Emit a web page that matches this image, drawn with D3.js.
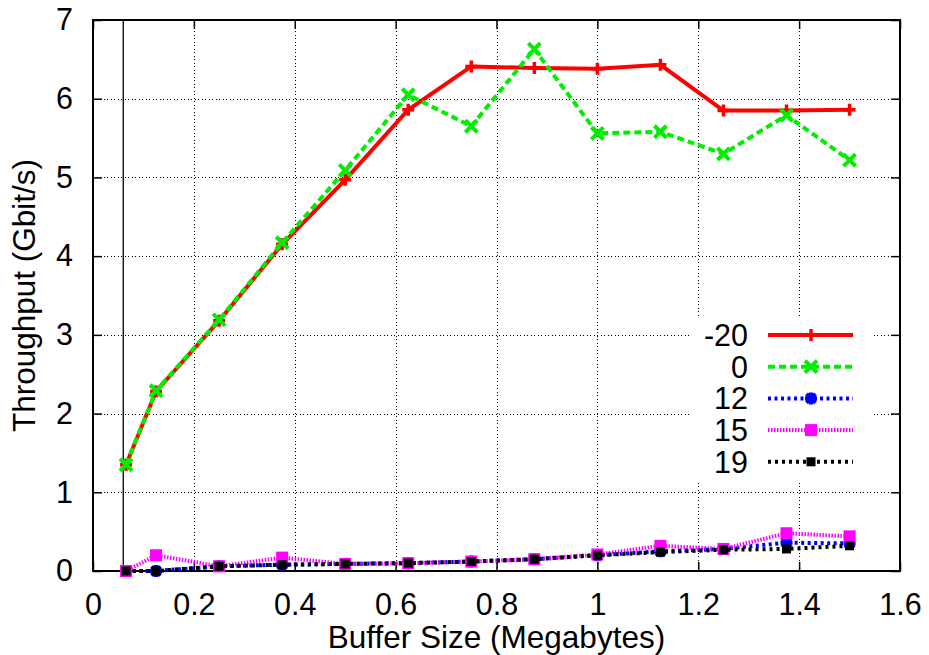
<!DOCTYPE html>
<html>
<head>
<meta charset="utf-8">
<script src="https://cdnjs.cloudflare.com/ajax/libs/d3/7.8.5/d3.min.js"></script>
<style>
  body { margin: 0; background: #fff; }
  svg { font-family: "Liberation Sans", Arial, sans-serif; }
</style>
</head>
<body>
<svg id="chart" width="929" height="655"></svg>
<script>
// buffer sizes (MB)
var bufferSizes = [0.0655, 0.125, 0.25, 0.375, 0.5, 0.625, 0.75, 0.875, 1.0, 1.125, 1.25, 1.375, 1.5];
var seriesNames = ["-20", "0", "12", "15", "19"];
var tputM20 = [1.35, 2.28, 3.18, 4.15, 4.97, 5.86, 6.41, 6.39, 6.38, 6.43, 5.85, 5.85, 5.86];
var tput0   = [1.35, 2.29, 3.19, 4.17, 5.09, 6.05, 5.65, 6.63, 5.56, 5.58, 5.30, 5.79, 5.22];
var tput12  = [0.00, 0.00, 0.06, 0.08, 0.09, 0.10, 0.12, 0.15, 0.20, 0.25, 0.28, 0.36, 0.35];
var tput15  = [0.00, 0.20, 0.06, 0.17, 0.09, 0.10, 0.12, 0.15, 0.21, 0.32, 0.28, 0.48, 0.44];
var tput19  = [0.00, 0.00, 0.06, 0.08, 0.09, 0.10, 0.12, 0.15, 0.20, 0.24, 0.27, 0.28, 0.32];
var xTicks = [0, 0.2, 0.4, 0.6, 0.8, 1, 1.2, 1.4, 1.6];
var yTicks = [0, 1, 2, 3, 4, 5, 6, 7];
var markerLineX = 0.06;

var svg = d3.select("#chart");
var pLeft = 93, pRight = 900, pTop = 20, pBottom = 571;

var x = d3.scaleLinear().domain([0, 1.6]).range([pLeft, pRight]);
var y = d3.scaleLinear().domain([0, 7]).range([pBottom, pTop]);

var styles = [
  { color: "#ff0000", dash: null,  marker: "plus",  data: tputM20 },
  { color: "#00ee00", dash: "7,4", marker: "cross", data: tput0 },
  { color: "#0000ff", dash: "3,3.5", marker: "star", data: tput12 },
  { color: "#ff00ff", dash: "1.5,1.5", marker: "bigsq", data: tput15 },
  { color: "#000000", dash: "3,4", marker: "sq",    data: tput19 }
];

// grid
var grid = svg.append("g").attr("stroke", "#000").attr("stroke-width", 1)
  .attr("stroke-dasharray", "1,2.5").attr("shape-rendering", "crispEdges");
xTicks.slice(1, -1).forEach(function(t) {
  var gx = Math.round(x(t)) + 0.5;
  grid.append("line").attr("x1", gx).attr("x2", gx).attr("y1", pBottom).attr("y2", pTop);
});
yTicks.slice(1, -1).forEach(function(t) {
  var gy = Math.round(y(t)) + 0.5;
  grid.append("line").attr("x1", pLeft).attr("x2", pRight).attr("y1", gy).attr("y2", gy);
});

// vertical line near the first buffer size
svg.append("line").attr("x1", x(markerLineX)).attr("x2", x(markerLineX))
  .attr("y1", pTop).attr("y2", pBottom).attr("stroke", "#000").attr("stroke-width", 1.3);

// axes with inside ticks
var axB = d3.axisBottom(x).tickValues(xTicks).tickSize(-9).tickPadding(22)
  .tickFormat(function(d) { return String(+d.toFixed(1)); });
var axT = d3.axisTop(x).tickValues(xTicks).tickSize(-9).tickFormat("");
var axL = d3.axisLeft(y).tickValues(yTicks).tickSize(-9).tickPadding(20).tickFormat(d3.format("d"));
var axR = d3.axisRight(y).tickValues(yTicks).tickSize(-9).tickFormat("");

function styleAxis(g) {
  g.select(".domain").remove();
  g.selectAll("line").attr("stroke", "#000").attr("stroke-width", 1.5);
  g.selectAll("text").attr("font-size", 30.5).attr("fill", "#000")
    .attr("font-family", "'Liberation Sans', Arial, sans-serif");
}
svg.append("g").attr("transform", "translate(0," + pBottom + ")").call(axB).call(styleAxis);
svg.append("g").attr("transform", "translate(0," + pTop + ")").call(axT).call(styleAxis);
svg.append("g").attr("transform", "translate(" + pLeft + ",0)").call(axL).call(styleAxis);
svg.append("g").attr("transform", "translate(" + pRight + ",0)").call(axR).call(styleAxis);

svg.append("rect").attr("x", pLeft).attr("y", pTop).attr("width", pRight - pLeft)
  .attr("height", pBottom - pTop).attr("fill", "none").attr("stroke", "#000").attr("stroke-width", 2);

function drawMarker(g, type, cx, cy, color) {
  if (type === "plus") {
    g.append("path").attr("d", "M" + (cx - 6) + "," + cy + "h12M" + cx + "," + (cy - 6) + "v12")
      .attr("stroke", color).attr("stroke-width", 3.5).attr("fill", "none");
  } else if (type === "cross") {
    g.append("path").attr("d", "M" + (cx - 6) + "," + (cy - 6) + "l12,12M" + (cx - 6) + "," + (cy + 6) + "l12,-12")
      .attr("stroke", color).attr("stroke-width", 4).attr("fill", "none");
  } else if (type === "star") {
    g.append("path").attr("d", "M" + (cx - 6) + "," + cy + "h12M" + cx + "," + (cy - 6) + "v12M" +
        (cx - 4.5) + "," + (cy - 4.5) + "l9,9M" + (cx - 4.5) + "," + (cy + 4.5) + "l9,-9")
      .attr("stroke", color).attr("stroke-width", 4).attr("fill", "none");
  } else if (type === "bigsq") {
    g.append("rect").attr("x", cx - 6).attr("y", cy - 6).attr("width", 12).attr("height", 12).attr("fill", color);
  } else {
    g.append("rect").attr("x", cx - 4.5).attr("y", cy - 4.5).attr("width", 9).attr("height", 9).attr("fill", color);
  }
}

var line = d3.line().x(function(d) { return x(d[0]); }).y(function(d) { return y(d[1]); });

styles.forEach(function(s) {
  var pts = bufferSizes.map(function(b, i) { return [b, s.data[i]]; });
  var g = svg.append("g");
  g.append("path").attr("d", line(pts)).attr("fill", "none").attr("stroke", s.color)
    .attr("stroke-width", 4).attr("stroke-dasharray", s.dash);
  pts.forEach(function(p) { drawMarker(g, s.marker, x(p[0]), y(p[1]), s.color); });
});

// legend (opaque box)
var leg = svg.append("g");
leg.append("rect").attr("x", 692).attr("y", 316).attr("width", 180).attr("height", 165).attr("fill", "#fff");
seriesNames.forEach(function(name, i) {
  var s = styles[i];
  var ly = 335 + i * 31.7;
  leg.append("text").attr("x", 748).attr("y", ly + 11).attr("text-anchor", "end")
    .attr("font-size", 30.5).attr("fill", "#000").text(name);
  leg.append("line").attr("x1", 768).attr("x2", 853).attr("y1", ly).attr("y2", ly)
    .attr("stroke", s.color).attr("stroke-width", 4).attr("stroke-dasharray", s.dash);
  drawMarker(leg, s.marker, 811, ly, s.color);
});

// axis titles
svg.append("text").attr("x", (pLeft + pRight) / 2).attr("y", 648).attr("text-anchor", "middle")
  .attr("font-size", 31.5).attr("fill", "#000").text("Buffer Size (Megabytes)");
svg.append("text").attr("transform", "translate(35," + (pTop + pBottom) / 2 + ") rotate(-90)")
  .attr("text-anchor", "middle").attr("font-size", 31.5).attr("fill", "#000").text("Throughput (Gbit/s)");
</script>
</body>
</html>
